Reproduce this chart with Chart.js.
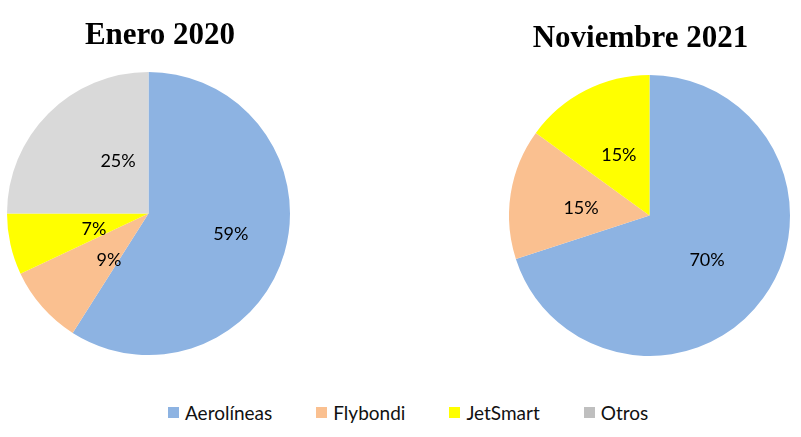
<!DOCTYPE html>
<html>
<head>
<meta charset="utf-8">
<script src="https://cdn.jsdelivr.net/npm/chart.js@4.4.1/dist/chart.umd.min.js"></script>
<style>
  html, body { margin: 0; padding: 0; background: #fff; }
  body { width: 801px; height: 437px; position: relative; overflow: hidden; font-family: Lato, sans-serif; }
  .pie { position: absolute; top: 0; }
  #legend { position: absolute; left: 168px; top: 401px; display: flex; gap: 44px; font-size: 19px; color: #111; }
  #legend .item { display: flex; align-items: center; height: 22px; }
  #legend .box { width: 11px; height: 11px; margin-right: 6px; }
</style>
</head>
<body>
<div class="pie" style="left:0px;width:297px;height:355px"><canvas id="pie2020"></canvas></div>
<div class="pie" style="left:509px;width:281px;height:356px"><canvas id="pie2021"></canvas></div>
<div id="legend"></div>
<script>
/* --------------- Data --------------------- */
const categories = ["Aerolíneas", "Flybondi", "JetSmart", "Otros"];
const enero2020 = [59, 9, 7, 25];
const noviembre2021 = [70, 15, 15, 0];
const titles = ["Enero 2020", "Noviembre 2021"];

/* --------------- Colors --------------------- */
const sliceColors = ["#8DB3E2", "#FAC090", "#FFFF00", "#D9D9D9"];
const legendColors = ["#8DB3E2", "#FAC090", "#FFFF00", "#BFBFBF"];

/* --------------- Title + percent labels drawn on the canvas --------------------- */
const pieText = {
  id: "pieText",
  afterDatasetsDraw(chart, args, opts) {
    const ctx = chart.ctx;
    const meta = chart.getDatasetMeta(0);
    const values = chart.data.datasets[0].data;
    ctx.save();
    ctx.fillStyle = "#000";
    ctx.textAlign = "center";
    ctx.textBaseline = "middle";
    ctx.font = "18px Lato";
    meta.data.forEach((arc, i) => {
      if (!values[i]) return;
      const p = arc.getProps(["x", "y", "startAngle", "endAngle", "outerRadius"], true);
      const a = (p.startAngle + p.endAngle) / 2 + (opts.nudge[i] || 0) * Math.PI / 180;
      const r = p.outerRadius * opts.radius[i];
      ctx.fillText(values[i] + "%", p.x + Math.cos(a) * r, p.y + Math.sin(a) * r);
    });
    // title
    const cx = (chart.chartArea.left + chart.chartArea.right) / 2;
    ctx.font = "bold 31px 'Liberation Serif'";
    ctx.textBaseline = "alphabetic";
    ctx.fillText(opts.title, cx + opts.titleShift, opts.titleBaseline);
    ctx.restore();
  }
};

const makePie = (id, values, padTop, textOpts) => new Chart(document.getElementById(id), {
  type: "pie",
  plugins: [pieText],
  data: {
    labels: categories,
    datasets: [{ data: values, backgroundColor: sliceColors, borderWidth: 0 }]
  },
  options: {
    responsive: true,
    maintainAspectRatio: false,
    animation: false,
    layout: { padding: { top: padTop } },
    plugins: {
      legend: { display: false },
      tooltip: { enabled: false },
      pieText: textOpts
    }
  }
});

makePie("pie2020", enero2020, 72, {
  title: titles[0], titleShift: 11.5, titleBaseline: 43.5,
  radius: [0.6, 0.43, 0.4, 0.43], nudge: [-2, -8, -3, 15]
});
makePie("pie2021", noviembre2021, 75, {
  title: titles[1], titleShift: -9, titleBaseline: 47,
  radius: [0.52, 0.49, 0.48, 0.5], nudge: [2, -3, 0, 0]
});

/* --------------- Shared legend --------------------- */
const legend = document.getElementById("legend");
categories.forEach((name, i) => {
  const item = document.createElement("div");
  item.className = "item";
  item.innerHTML = `<span class="box" style="background:${legendColors[i]}"></span><span>${name}</span>`;
  legend.appendChild(item);
});
</script>
</body>
</html>
